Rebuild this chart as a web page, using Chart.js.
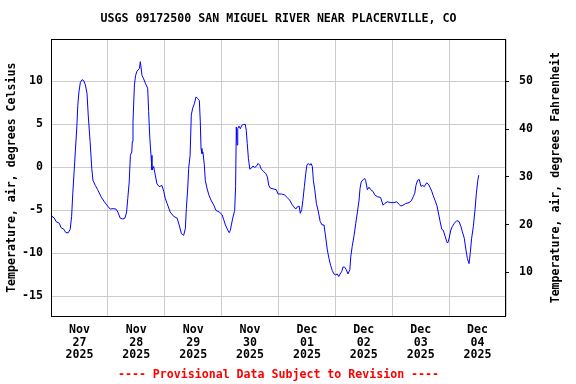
<!DOCTYPE html>
<html>
<head>
<meta charset="utf-8">
<script src="https://cdn.jsdelivr.net/npm/chart.js@4/dist/chart.umd.min.js"></script>
<style>
  html, body { margin: 0; padding: 0; background: #fff; }
  canvas { display: block; }
</style>
</head>
<body>
<canvas id="chart" width="576" height="384"></canvas>
<script>
// hours since Nov 27 2025 00:00, air temperature in deg C
const hours = [
  0, 1.4, 2.1, 3.5, 4.2, 5.4, 6.3, 7.3, 8.1, 8.7, 9.2, 9.8, 10.3, 10.9, 11.3, 11.8,
  12.4, 13.1, 13.8, 14.5, 15.2, 15.7, 16.5, 17.2, 17.7, 18.7, 19.7, 21.1, 22.5, 23.9,
  25.0, 26.2, 27.4, 28.2, 29.2, 30.3, 31.2, 31.9, 32.4, 33.0, 33.5, 34.1, 34.3, 34.6,
  35.2, 35.7, 36.3, 37.3, 37.7, 38.4, 39.1, 39.8, 40.8, 41.2, 41.7, 42.2, 42.6, 43.3,
  44.0, 44.7, 45.7, 46.8, 47.6, 48.2, 49.0, 50.3, 51.8, 53.2, 54.1, 55.0, 56.0, 56.7,
  57.1, 57.7, 58.1, 58.7, 59.2, 59.8, 60.5, 61.2, 61.9, 62.6, 63.0, 63.3, 63.7, 64.1,
  64.7, 65.1, 65.8, 66.6, 67.5, 68.7, 69.6, 71.0, 72.2, 72.9, 73.6, 74.6, 75.2, 75.7,
  76.1, 76.7, 77.5, 77.9, 78.2, 78.5, 78.8, 79.3, 79.9, 80.5, 81.3, 82.0, 82.4, 82.8,
  83.3, 83.9, 84.5, 85.2, 86.0, 86.6, 87.4, 88.1, 88.7, 89.8, 90.6, 91.3, 91.9, 92.5,
  93.7, 95.1, 95.8, 97.2, 98.6, 99.6, 100.7, 101.7, 102.5, 103.3, 103.9, 104.7, 105.2,
  105.8, 106.3, 106.9, 107.5, 108.0, 108.6, 109.2, 109.7, 110.3, 110.7, 111.3, 112.0,
  112.7, 113.6, 114.4, 115.2, 115.9, 116.6, 117.3, 118.0, 118.7, 119.4, 120.1, 120.8,
  121.4, 122.0, 122.7, 123.2, 123.9, 124.6, 125.3, 126.1, 126.5, 127.1, 127.9, 128.6,
  129.3, 130.0, 130.4, 130.9, 131.8, 132.4, 132.8, 133.5, 134.2, 134.9, 135.9, 136.6,
  137.7, 139.1, 140.1, 140.8, 141.9, 143.4, 144.7, 145.9, 146.9, 147.6, 148.5, 149.7,
  151.1, 152.0, 152.9, 153.5, 154.0, 154.7, 155.4, 156.1, 156.9, 157.5, 158.5, 159.2,
  159.9, 160.7, 161.3, 162.0, 162.8, 163.4, 164.2, 164.9, 165.5, 166.3, 167.0, 167.4,
  168.0, 168.7, 169.3, 170.2, 171.2, 172.2, 173.0, 173.6, 174.4, 175.1, 175.7, 176.4,
  176.9, 177.5, 178.2, 178.9, 179.5, 180.1, 180.5
];
const tempC = [
  -5.6, -5.9, -6.3, -6.5, -7.0, -7.2, -7.6, -7.6, -7.2, -5.7, -3.0, -0.3, 2.0, 4.7, 7.2, 8.8,
  9.9, 10.2, 10.1, 9.6, 8.6, 6.1, 3.0, -0.1, -1.5, -2.1, -2.6, -3.4, -4.0, -4.5,
  -4.85, -4.8, -4.85, -5.2, -5.9, -6.0, -5.9, -5.2, -3.6, -1.7, 1.4, 1.8, 3.0, 5.3,
  9.6, 10.7, 11.2, 11.5, 12.3, 10.7, 10.3, 9.8, 9.2, 6.5, 3.4, 1.4, -0.3, 0.1,
  -0.9, -1.9, -2.25, -2.1, -2.8, -3.6, -4.2, -5.2, -5.7, -5.9, -6.7, -7.7, -7.9, -7.1,
  -4.8, -2.4, -0.1, 1.4, 6.1, 6.9, 7.4, 8.2, 8.0, 7.8, 5.3, 2.2, 1.6, 1.8,
  0.3, -1.5, -2.4, -3.2, -3.8, -4.4, -5.0, -5.2, -5.5, -6.1, -6.7, -7.3, -7.6, -7.3,
  -6.7, -5.9, -5.0, -2.25, 4.7, 2.6, 4.5, 4.8, 4.5, 4.9, 5.0, 5.0, 4.3, 2.8,
  1.05, -0.2, -0.1, 0.15, 0.0, 0.1, 0.45, 0.25, -0.2, -0.5, -0.7, -1.1, -2.1, -2.4,
  -2.5, -2.6, -3.1, -3.1, -3.2, -3.5, -3.8, -4.3, -4.6, -4.85, -4.6, -4.5, -5.35,
  -4.9, -3.8, -2.25, -0.7, 0.3, 0.45, 0.25, 0.45, 0.1, -1.5, -2.6, -4.2,
  -5.0, -6.3, -6.7, -6.7, -8.1, -9.6, -10.6, -11.4, -12.0, -12.4, -12.5, -12.4,
  -12.7, -12.4, -12.1, -11.6, -11.6, -11.9, -12.4, -11.9, -10.4, -9.2, -7.9, -6.5,
  -5.2, -3.8, -2.45, -1.7, -1.4, -1.3, -1.55, -2.6, -2.3, -2.6, -2.8, -3.2,
  -3.4, -3.5, -4.4, -4.2, -4.0, -4.1, -4.1, -4.0, -4.3, -4.5, -4.4, -4.2,
  -4.1, -3.9, -3.4, -3.0, -2.1, -1.5, -1.4, -2.2, -2.1, -2.25, -1.8, -1.95,
  -2.3, -2.8, -3.3, -3.8, -4.4, -5.2, -6.3, -7.2, -7.3, -8.0, -8.65, -8.8,
  -8.25, -7.3, -6.9, -6.5, -6.2, -6.3, -6.9, -7.5, -8.25, -9.6, -10.6, -11.2,
  -10.0, -8.25, -6.9, -5.0, -3.0, -1.5, -0.9
];

const dayBounds = [0, 24, 48, 72, 96, 120, 144, 168, 192];
const dayMids = [12, 36, 60, 84, 108, 132, 156, 180];
const dayLabels = [
  ['Nov', '27', '2025'], ['Nov', '28', '2025'], ['Nov', '29', '2025'], ['Nov', '30', '2025'],
  ['Dec', '01', '2025'], ['Dec', '02', '2025'], ['Dec', '03', '2025'], ['Dec', '04', '2025']
];
const celsiusTicks = [-15, -10, -5, 0, 5, 10];
const fahrenheitTicks = [10, 20, 30, 40, 50];

const yMin = -17.3, yMax = 14.9;
const toF = c => c * 9 / 5 + 32;

const FONT = 'DejaVu Sans Mono';
const SIZE = 11.6;
const font = (size, lh) => ({ family: FONT, size: size, weight: 'bold', lineHeight: lh || 1.2 });

// frame round the plot + right axis title (reads bottom to top)
const extras = {
  id: 'extras',
  afterDraw(chart) {
    const { ctx, chartArea: a } = chart;
    ctx.save();
    ctx.strokeStyle = '#000';
    ctx.lineWidth = 1;
    ctx.strokeRect(Math.round(a.left) + 0.5, Math.round(a.top) + 0.5,
      Math.round(a.right - a.left) - 1, Math.round(a.bottom - a.top));
    ctx.translate(555.5, (a.top + a.bottom) / 2);
    ctx.rotate(-Math.PI / 2);
    ctx.fillStyle = '#000';
    ctx.font = 'bold ' + SIZE + 'px "' + FONT + '"';
    ctx.textAlign = 'center';
    ctx.textBaseline = 'middle';
    ctx.fillText('Temperature, air, degrees Fahrenheit', 0, 0);
    ctx.restore();
  }
};

new Chart(document.getElementById('chart'), {
  type: 'line',
  data: {
    datasets: [{
      data: hours.map((h, i) => ({ x: h, y: tempC[i] })),
      borderColor: '#0000ff',
      borderWidth: 1,
      pointRadius: 0,
      tension: 0,
      fill: false
    }]
  },
  options: {
    responsive: false,
    animation: false,
    devicePixelRatio: 1,
    layout: { padding: 0 },
    plugins: {
      legend: { display: false },
      tooltip: { enabled: false },
      title: {
        display: true,
        fullSize: false,
        text: 'USGS 09172500 SAN MIGUEL RIVER NEAR PLACERVILLE, CO',
        color: '#000',
        font: font(SIZE),
        padding: { top: 12, bottom: 13.4 }
      },
      subtitle: {
        display: true,
        fullSize: false,
        position: 'bottom',
        text: '---- Provisional Data Subject to Revision ----',
        color: '#ff0000',
        font: font(SIZE),
        padding: { top: 0, bottom: 2 }
      }
    },
    scales: {
      x: {
        type: 'linear',
        position: 'bottom',
        min: 0,
        max: 192,
        afterBuildTicks: s => { s.ticks = dayBounds.map(v => ({ value: v })); },
        afterFit: s => { s.height = 0; },
        ticks: { display: false },
        grid: { color: '#cccccc', drawTicks: false },
        border: { display: false }
      },
      xl: {
        type: 'linear',
        position: 'bottom',
        min: 0,
        max: 192,
        afterBuildTicks: s => { s.ticks = dayMids.map(v => ({ value: v })); },
        afterFit: s => { s.height = 52; },
        ticks: {
          color: '#000',
          font: font(SIZE, 1.1),
          padding: 7.5,
          maxRotation: 0,
          autoSkip: false,
          callback: (v, i) => dayLabels[i]
        },
        grid: { display: false, drawTicks: false },
        border: { display: false }
      },
      y: {
        position: 'left',
        min: yMin,
        max: yMax,
        afterBuildTicks: s => { s.ticks = celsiusTicks.map(v => ({ value: v })); },
        afterFit: s => { s.width = 51; },
        ticks: { color: '#000', font: font(SIZE), padding: 8 },
        grid: { color: '#cccccc', drawTicks: false },
        border: { display: false },
        title: {
          display: true,
          text: 'Temperature, air, degrees Celsius',
          color: '#000',
          font: font(SIZE),
          padding: { top: 5, bottom: 0 }
        }
      },
      y2: {
        position: 'right',
        min: toF(yMin),
        max: toF(yMax),
        afterBuildTicks: s => { s.ticks = fahrenheitTicks.map(v => ({ value: v })); },
        afterFit: s => { s.width = 70; },
        ticks: { color: '#000', font: font(SIZE), padding: 10 },
        grid: { drawOnChartArea: false, color: '#000', tickLength: 3 },
        border: { display: false }
      }
    }
  },
  plugins: [extras]
});
</script>
</body>
</html>
